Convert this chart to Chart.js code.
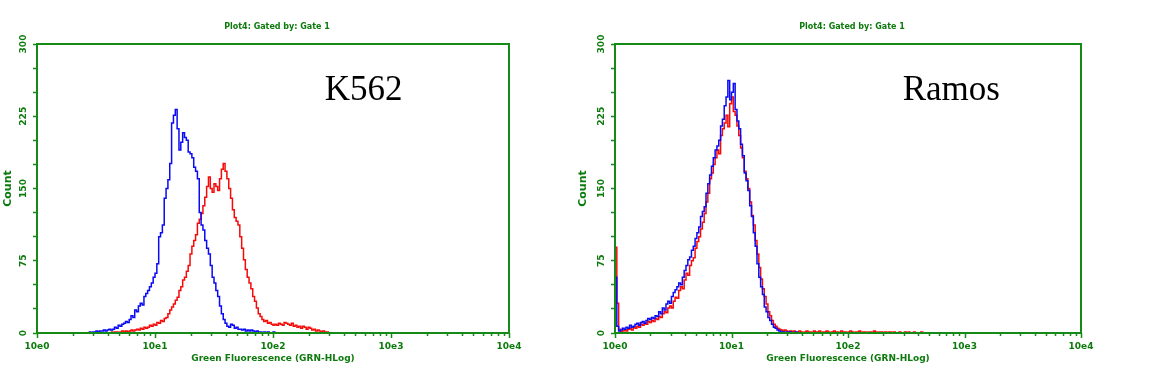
<!DOCTYPE html>
<html>
<head>
<meta charset="utf-8">
<script src="https://cdn.jsdelivr.net/npm/chart.js@4/dist/chart.umd.min.js"></script>
<style>
  body { margin: 0; background: #fff; }
  .panel { position: absolute; top: 0; height: 384px; }
  #left { left: 0; width: 560px; }
  #right { left: 570px; width: 580px; }
</style>
</head>
<body>
<div class="panel" id="left"><canvas id="k562Chart"></canvas></div>
<div class="panel" id="right"><canvas id="ramosChart"></canvas></div>
<script>
// counts per channel (256 channels over 4 decades), each list starts at the given channel
const k562IsoStart = 28;
const k562Iso = [1,0,1,1,2,1,2,2,3,2,3,4,3,
  4,6,5,8,7,9,10,12,11,14,18,16,24,22,28,31,29,38,41,44,48,52,58,62,72,100,104,112,140,150,159,176,218,226,232,
  212,190,198,208,203,200,188,186,182,172,168,160,125,112,107,96,88,82,70,58,52,44,38,28,20,14,10,7,6,9,8,5,6,4,
  4,3,4,2,3,2,3,2,1,2,1,1,0,1,0,1,0,0,1,0,0];
const k562StainStart = 40;
const k562Stain = [1,0,1,1,0,1,2,1,2,1, 2,3,2,3,4,3,5,4,6,5, 6,8,7,9,8,11,10,13,12,15,
  16,20,24,27,30,34,37,44,48,55, 58,64,70,82,90,96,102,114,118,124, 132,141,152,162,150,146,155,152,148,160,
  170,176,168,160,150,140,128,120,116,112, 100,88,76,66,58,52,46,38,33,26, 20,17,14,12,13,10,11,9,8,9,
  8,10,9,8,11,10,9,8,10,7, 8,6,7,5,7,6,4,6,5,3, 4,2,3,2,1,2,1,1,0];

const ramosIsoStart = 0;
const ramosIso = [58,7,2,3,5,4,6,5,8,6, 7,9,10,8,11,12,10,13,15,14, 16,15,18,17,22,20,26,24,30,33,
  31,38,42,45,48,52,50,58,65,70, 76,79,86,90,98,104,110,121,126,131, 145,155,164,173,182,190,194,200,215,222,
  236,245,262,242,250,259,232,220,212,196, 184,166,158,148,132,121,104,90,72,58, 48,40,27,22,16,13,9,6,5,3,
  2,1,1,0,1,0,1,0,0,1, 0];
const ramosStainStart = 0;
const ramosStain = [89,31,4,1,2,3,2,4,5,3, 6,5,7,6,9,8,10,9,12,11, 13,12,15,14,17,16,20,22,21,26,
  28,26,33,37,36,44,48,46,55,62, 60,70,75,78,88,95,100,108,115,124, 136,145,160,166,175,182,190,186,205,212,
  218,226,214,238,245,230,226,215,205,192, 182,168,160,150,136,122,112,96,82,68, 56,46,38,30,22,18,13,9,7,5,
  4,3,2,3,2,1,2,1,2,1, 1,2,1,0,1,2,1,1,0,2, 1,1,2,0,1,1,2,1,0,1, 2,1,1,0,2,1,1,0,1,2,
  1,0,1,1,2,0,1,1,0,1, 1,0,2,1,0,1,1,0,1,0, 1,1,0,1,0,0,1,0,0,1, 0,1,0,0,1,0,0,0,1,0, 0];

const xTickLabels = ['10e0', '10e1', '10e2', '10e3', '10e4'];
const yTickLabels = [0, 75, 150, 225, 300];

const GREEN = '#0c7a0c';
const AXIS_GREEN = '#168a16';
const FONT = '"DejaVu Sans", sans-serif';

function toPoints(start, counts) {
  return counts.map((c, i) => ({ x: 10 ** ((start + i) / 64), y: c }));
}

function isDecade(v) {
  const e = Math.log10(v);
  return Math.abs(e - Math.round(e)) < 1e-6;
}

// 1..9 times a power of ten (log scale also hands back 15, 150, ...)
function isLogStep(v) {
  const m = v / 10 ** Math.floor(Math.log10(v) + 1e-9);
  return Math.abs(m - Math.round(m)) < 1e-6;
}

const panelDecor = {
  id: 'panelDecor',
  afterDraw(chart, args, opts) {
    const { ctx, chartArea: a, scales } = chart;
    ctx.save();
    ctx.strokeStyle = AXIS_GREEN;
    ctx.lineWidth = 2;
    ctx.strokeRect(a.left, a.top, a.right - a.left, a.bottom - a.top);
    // log tick marks under the x axis
    ctx.lineWidth = 1.5;
    ctx.beginPath();
    scales.x.ticks.forEach(t => {
      if (!isLogStep(t.value)) return;
      const px = Math.round(scales.x.getPixelForValue(t.value)) + 0.5;
      ctx.moveTo(px, a.bottom);
      ctx.lineTo(px, a.bottom + (isDecade(t.value) ? 5 : 3));
    });
    ctx.stroke();
    ctx.fillStyle = GREEN;
    ctx.font = 'bold 8px ' + FONT;
    ctx.textAlign = 'center';
    ctx.textBaseline = 'middle';
    ctx.fillText(opts.title, (a.left + a.right) / 2 + 4, 27);
    ctx.fillStyle = '#000';
    ctx.font = '35px "Liberation Serif", serif';
    ctx.textAlign = 'left';
    ctx.textBaseline = 'alphabetic';
    ctx.fillText(opts.sample, scales.x.getPixelForValue(opts.sampleAt[0]), scales.y.getPixelForValue(opts.sampleAt[1]));
    ctx.restore();
  }
};

function makeChart(id, sample, sampleAt, iso, stain, yWidth, rightPad, countPad) {
  return new Chart(document.getElementById(id), {
    type: 'line',
    data: {
      datasets: [
        { label: 'isotype', data: iso, borderColor: 'rgb(10,10,245)', borderWidth: 1.5, stepped: true, pointRadius: 0 },
        { label: 'antibody', data: stain, borderColor: 'rgb(245,10,10)', borderWidth: 1.5, stepped: true, pointRadius: 0 }
      ]
    },
    options: {
      responsive: true,
      maintainAspectRatio: false,
      animation: false,
      devicePixelRatio: 1,
      layout: { padding: { top: 44, right: rightPad, bottom: 0, left: 0 } },
      plugins: {
        legend: { display: false },
        tooltip: { enabled: false },
        panelDecor: { title: 'Plot4: Gated by: Gate 1', sample: sample, sampleAt: sampleAt }
      },
      scales: {
        x: {
          type: 'logarithmic',
          min: 1,
          max: 10000,
          afterFit(s) { s.height = 51; },
          border: { display: false },
          grid: { drawOnChartArea: false, tickLength: 5, tickColor: 'rgba(0,0,0,0)' },
          ticks: {
            autoSkip: false,
            maxRotation: 0,
            padding: 3,
            color: GREEN,
            font: { family: FONT, size: 9, weight: 'bold' },
            callback: v => isDecade(v) ? xTickLabels[Math.round(Math.log10(v))] : ''
          },
          title: {
            display: true,
            text: 'Green Fluorescence (GRN-HLog)',
            color: GREEN,
            font: { family: FONT, size: 9, weight: 'bold' },
            padding: { top: 0, bottom: 20 }
          }
        },
        y: {
          min: 0,
          max: 300,
          afterFit(s) { s.width = yWidth; },
          border: { display: false },
          grid: { drawOnChartArea: false, tickColor: AXIS_GREEN, tickLength: 4, tickWidth: 1.5 },
          ticks: {
            stepSize: 25,
            autoSkip: false,
            minRotation: 90,
            maxRotation: 90,
            crossAlign: 'center',
            padding: 0,
            color: GREEN,
            font: { family: FONT, size: 9, weight: 'bold' },
            callback: v => yTickLabels.includes(v) ? String(v) : ''
          },
          title: {
            display: true,
            text: 'Count',
            color: GREEN,
            font: { family: FONT, size: 11, weight: 'bold' },
            padding: { top: countPad, bottom: 0 }
          }
        }
      }
    },
    plugins: [panelDecor]
  });
}

makeChart('k562Chart', 'K562', [274, 242],
  toPoints(k562IsoStart, k562Iso), toPoints(k562StainStart, k562Stain), 37, 51, 1.5);
makeChart('ramosChart', 'Ramos', [295, 242],
  toPoints(ramosIsoStart, ramosIso), toPoints(ramosStainStart, ramosStain), 45, 69, 6.4);
</script>
</body>
</html>
